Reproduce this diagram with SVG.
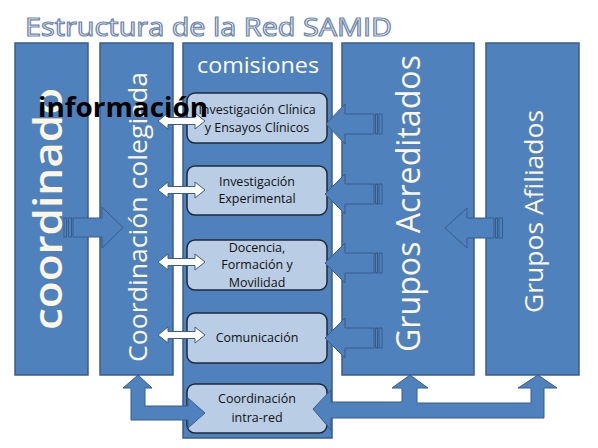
<svg xmlns="http://www.w3.org/2000/svg" width="598" height="448" viewBox="0 0 598 448">
<style>
.col{fill:#4f81bd;stroke:#385d8a;stroke-width:1.5}
.box{fill:#b9cde5;stroke:#1f2a36;stroke-width:1.5}
.blk{fill:#4f81bd;stroke:#385d8a;stroke-width:1}
.wht{fill:#ffffff;stroke:#385d8a;stroke-width:1}
.bt{font-family:"Open Sans","Noto Sans",sans-serif;font-size:12.5px;fill:#111111;text-anchor:middle}
.vt{font-family:"Open Sans","Noto Sans",sans-serif;fill:#fcf6e2;text-anchor:middle}
</style>
<rect width="598" height="448" fill="#ffffff"/>
<text x="25" y="36" font-family="'Open Sans','Noto Sans',sans-serif" font-size="25" fill="#ffffff" stroke="#6f88ae" stroke-width="1.2" textLength="367" lengthAdjust="spacingAndGlyphs">Estructura de la Red SAMID</text>

<g id="coordinado">
<rect class="col" x="15" y="43" width="73" height="332"/>
<text class="vt" font-size="40" font-weight="600" transform="translate(62,209) rotate(-90)" textLength="242" lengthAdjust="spacingAndGlyphs">coordinado</text>
</g>
<g id="coordinacion-colegiada">
<rect class="col" x="100" y="43" width="73" height="332"/>
<text class="vt" font-size="26" transform="translate(147,217) rotate(-90)" textLength="290" lengthAdjust="spacingAndGlyphs">Coordinación colegiada</text>
</g>
<g id="comisiones">
<rect class="col" x="183" y="43" width="149" height="395"/>
<text x="258" y="73" font-family="'Open Sans','Noto Sans',sans-serif" font-size="22" fill="#ffffff" text-anchor="middle" textLength="122" lengthAdjust="spacingAndGlyphs">comisiones</text>
</g>
<g id="grupos-acreditados">
<rect class="col" x="342" y="43" width="132" height="332"/>
<text class="vt" font-size="33" transform="translate(420,203.5) rotate(-90)" textLength="297" lengthAdjust="spacingAndGlyphs">Grupos Acreditados</text>
</g>
<g id="grupos-afiliados">
<rect class="col" x="486" y="43" width="93" height="332"/>
<text class="vt" font-size="25" transform="translate(543,211.5) rotate(-90)" textLength="203" lengthAdjust="spacingAndGlyphs">Grupos Afiliados</text>
</g>

<g id="box-clinica">
<rect class="box" x="187" y="93" width="140" height="50" rx="8"/>
<text class="bt" x="257" y="114">Investigación Clínica</text>
<text class="bt" x="257" y="132">y Ensayos Clínicos</text>
</g>
<g id="box-experimental">
<rect class="box" x="187" y="166" width="140" height="49" rx="8"/>
<text class="bt" x="257" y="186">Investigación</text>
<text class="bt" x="257" y="203">Experimental</text>
</g>
<g id="box-docencia">
<rect class="box" x="187" y="240" width="140" height="50" rx="8"/>
<text class="bt" x="257" y="252">Docencia,</text>
<text class="bt" x="257" y="269">Formación y</text>
<text class="bt" x="257" y="287">Movilidad</text>
</g>
<g id="box-comunicacion">
<rect class="box" x="187" y="313" width="140" height="50" rx="8"/>
<text class="bt" x="257" y="342">Comunicación</text>
</g>
<g id="box-coordinacion-intra-red">
<rect class="box" x="187" y="384" width="140" height="49" rx="8"/>
<text class="bt" x="257" y="403">Coordinación</text>
<text class="bt" x="257" y="422">intra-red</text>
</g>

<g id="connectors">
<rect class="blk" x="64" y="218" width="2.5" height="19"/>
<rect class="blk" x="68.5" y="218" width="3" height="19"/>
<polygon class="blk" points="73,218 102,218 102,207 123,227.5 102,248 102,237 73,237"/>
<polygon class="wht" points="158,121 168,113 168,117.5 195,117.5 195,113 205,121 195,129 195,124.5 168,124.5 168,129"/>
<polygon class="wht" points="158,190 168,182 168,186.5 195,186.5 195,182 205,190 195,198 195,193.5 168,193.5 168,198"/>
<polygon class="wht" points="158,262 168,254 168,258.5 195,258.5 195,254 205,262 195,270 195,265.5 168,265.5 168,270"/>
<polygon class="wht" points="158,335 168,327 168,331.5 195,331.5 195,327 205,335 195,343 195,338.5 168,338.5 168,343"/>
<polygon class="blk" points="326,124 345,104 345,114 374,114 374,134 345,134 345,144"/>
<rect class="blk" x="375.5" y="114" width="2" height="20"/>
<rect class="blk" x="379" y="114" width="3" height="20"/>
<polygon class="blk" points="325,194 345,174 345,184 374,184 374,204 345,204 345,214"/>
<rect class="blk" x="375.5" y="184" width="2" height="20"/>
<rect class="blk" x="379" y="184" width="3" height="20"/>
<polygon class="blk" points="325,263 345,243 345,253 374,253 374,273 345,273 345,283"/>
<rect class="blk" x="375.5" y="253" width="2" height="20"/>
<rect class="blk" x="379" y="253" width="3" height="20"/>
<polygon class="blk" points="325,338 345,318 345,328 374,328 374,348 345,348 345,358"/>
<rect class="blk" x="375.5" y="328" width="2" height="20"/>
<rect class="blk" x="379" y="328" width="3" height="20"/>
<polygon class="blk" points="445,228 467,208 467,218 494,218 494,238 467,238 467,248"/>
<rect class="blk" x="495.5" y="218" width="2" height="20"/>
<rect class="blk" x="499" y="218" width="3.5" height="20"/>
<polygon class="blk" points="138,375 152,388 145,388 145,406 188,406 188,398 205,413 188,428 188,420 131,420 131,388 123,388"/>
<polygon class="blk" points="313,409 331,390 331,402 402,402 402,388 392,388 410,375 428,388 417,388 417,403 531,403 531,388 518,388 538,375 557,388 544,388 544,418 331,418 331,430"/>
</g>

<text x="38" y="117" font-family="'Open Sans','Noto Sans',sans-serif" font-size="26" font-weight="bold" fill="#000000" textLength="170" lengthAdjust="spacingAndGlyphs">información</text>
</svg>
